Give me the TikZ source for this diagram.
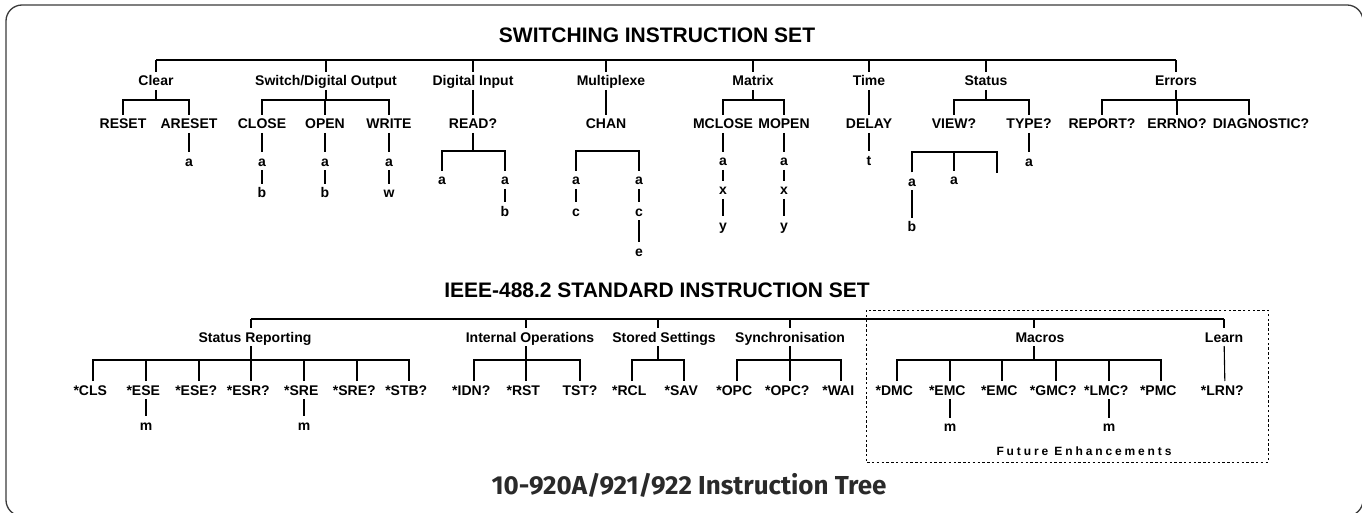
\documentclass[tikz,border=0pt]{standalone}
\usepackage{fontspec}
\setmainfont{Liberation Sans}
\newfontfamily\titlefont{Fira Sans}
\newfontfamily\spacedfont{Liberation Sans}[LetterSpace=24]
\definecolor{framegray}{HTML}{3A3A3A}
\definecolor{titlegray}{HTML}{2A2A2A}
\begin{document}
\begin{tikzpicture}[x=1pt,y=-1pt,
  lbl/.style={font=\fontsize{14}{14}\selectfont\bfseries, inner sep=0pt, outer sep=4pt, text height=10pt, text depth=0pt},
  ttl/.style={font=\fontsize{21}{21}\selectfont\bfseries, inner sep=0pt},
  ln/.style={line width=1.1pt},
  mainln/.style={line width=2.2pt},
  fut/.style={font=\fontsize{12}{12}\selectfont\spacedfont\bfseries, inner sep=0pt},
  bigttl/.style={font=\fontsize{26}{26}\selectfont\titlefont\bfseries, text=titlegray, inner sep=0pt},
  dashbox/.style={line width=1pt, dash pattern=on 2.4pt off 2.4pt}
]
\useasboundingbox (0,0) rectangle (1362,513);
\begin{scope}
  \clip (0,0) rectangle (1362,513);
  \draw[line width=1.3pt, framegray, rounded corners=16pt] (6,5) rectangle (1363,516);
\end{scope}

% ================= SWITCHING INSTRUCTION SET =================
\node[ttl] (t1) at (657,35.5) {SWITCHING INSTRUCTION SET};
\coordinate (T) at (0,60);
\coordinate (B) at (0,100);
\coordinate (R) at (0,151);
\coordinate (V) at (0,152);

\node[lbl] (clear)  at (156,81) {Clear};
\node[lbl] (swdo)   at (326,81) {Switch/Digital Output};
\node[lbl] (dig)    at (473,81) {Digital Input};
\node[lbl] (mux)    at (611,81) {Multiplexe};
\node[lbl] (matrix) at (753,81) {Matrix};
\node[lbl] (time)   at (869,81) {Time};
\node[lbl] (status) at (986,81) {Status};
\node[lbl] (errors) at (1176,81) {Errors};

\node[lbl] (reset)  at (123,124) {RESET};
\node[lbl] (areset) at (189,124) {ARESET};
\node[lbl] (close)  at (262,124) {CLOSE};
\node[lbl] (open)   at (325,124) {OPEN};
\node[lbl] (write)  at (389,124) {WRITE};
\node[lbl] (read)   at (473,124) {READ?};
\node[lbl] (chan)   at (606,124) {CHAN};
\node[lbl] (mclose) at (723,124) {MCLOSE};
\node[lbl] (mopen)  at (784,124) {MOPEN};
\node[lbl] (delay)  at (869,124) {DELAY};
\node[lbl] (view)   at (954,124) {VIEW?};
\node[lbl] (type)   at (1029,124) {TYPE?};
\node[lbl] (report) at (1102,124) {REPORT?};
\node[lbl] (errno)  at (1177,124) {ERRNO?};
\node[lbl] (diag)   at (1261,124) {DIAGNOSTIC?};
\coordinate (dstem) at (1249,124);

% third level
\node[lbl] (ara) at (189,161.5) {a};
\node[lbl] (ca) at (262,161.5) {a};
\node[lbl] (cb) at (262,193) {b};
\node[lbl] (oa) at (325,161.5) {a};
\node[lbl] (ob) at (325,193) {b};
\node[lbl] (wa) at (389,161.5) {a};
\node[lbl] (ww) at (389,193) {w};
\node[lbl] (ra) at (442,180) {a};
\node[lbl] (rb) at (505,180) {a};
\node[lbl] (rbb) at (505,211.5) {b};
\node[lbl] (ma) at (576,180) {a};
\node[lbl] (mc) at (576,211) {c};
\node[lbl] (mb) at (639,180) {a};
\node[lbl] (md) at (639,211) {c};
\node[lbl] (me) at (639,251) {e};
\node[lbl] (xa) at (723,161) {a};
\node[lbl] (xx) at (723,190) {x};
\node[lbl] (xy) at (723,225) {y};
\node[lbl] (ya) at (784,161) {a};
\node[lbl] (yx) at (784,190) {x};
\node[lbl] (yy) at (784,225) {y};
\node[lbl] (dt) at (869,160.5) {t};
\node[lbl] (ta) at (1029,161.5) {a};
\node[lbl] (va) at (912,181.5) {a};
\node[lbl] (vb) at (954,180) {a};
\node[lbl] (vbb) at (912,226.5) {b};
\coordinate (vr) at (997,173);

% connectors
\draw[mainln] (T -| clear) -- (T -| errors);
\foreach \n in {clear,swdo,dig,matrix,time,status,errors}
  \draw[ln] (T -| \n) -- (\n.north);
\draw[ln] (T -| chan) -- (mux.north -| chan);

\draw[ln] (clear.south) -- (clear |- B);
\draw[ln] (reset.north) -- (reset |- B) -- (areset |- B) -- (areset.north);
\draw[ln] (areset) -- (ara);

\draw[ln] (swdo.south) -- (swdo |- B);
\draw[ln] (close.north) -- (close |- B) -- (write |- B) -- (write.north);
\draw[ln] (open.north) -- (open |- B);
\draw[ln] (close) -- (ca) -- (cb);
\draw[ln] (open) -- (oa) -- (ob);
\draw[ln] (write) -- (wa) -- (ww);

\draw[ln] (dig) -- (read);
\draw[ln] (read.south) -- (read |- R);
\draw[ln] (ra.north) -- (ra |- R) -- (rb |- R) -- (rb.north);
\draw[ln] (rb) -- (rbb);

\draw[ln] (mux.south -| chan) -- (chan.north);
\draw[ln] (ma.north) -- (ma |- R) -- (mb |- R) -- (mb.north);
\draw[ln] (ma) -- (mc);
\draw[ln] (mb) -- (md) -- (me);

\draw[ln] (matrix.south) -- (matrix |- B);
\draw[ln] (mclose.north) -- (mclose |- B) -- (mopen |- B) -- (mopen.north);
\draw[ln] (mclose) -- (xa) -- (xx) -- (xy);
\draw[ln] (mopen) -- (ya) -- (yx) -- (yy);

\draw[ln] (time) -- (delay);
\draw[ln] (delay) -- (dt);

\draw[ln] (status.south) -- (status |- B);
\draw[ln] (view.north) -- (view |- B) -- (type |- B) -- (type.north);
\draw[ln] (type) -- (ta);
\draw[ln] (va.north) -- (va |- V) -- (vr |- V) -- (vr);
\draw[ln] (vb.north) -- (vb |- V);
\draw[ln] (va) -- (vbb);

\draw[ln] (errors.south) -- (errors |- B);
\draw[ln] (report.north) -- (report |- B) -- (dstem |- B) -- (diag.north -| dstem);
\draw[ln] (errno.north) -- (errno |- B);

% ================= IEEE-488.2 STANDARD INSTRUCTION SET =================
\node[ttl] (t2) at (657,290) {IEEE-488.2 STANDARD INSTRUCTION SET};
\coordinate (M) at (0,319);
\coordinate (N) at (0,360);

\node[lbl] (sr)  at (255,337) {Status Reporting};
\node[lbl] (io)  at (530,337) {Internal Operations};
\node[lbl] (ss)  at (664,337) {Stored Settings};
\node[lbl] (sy)  at (790,337) {Synchronisation};
\node[lbl] (mac) at (1040,337) {Macros};
\node[lbl] (lrn) at (1224,337) {Learn};
\coordinate (srS) at (251,319);
\coordinate (ioS) at (526,319);
\coordinate (ssS) at (658,319);
\coordinate (macS) at (1034,319);

\node[lbl] (cls)  at (93,390)  {\llap{*}CLS};
\node[lbl] (ese)  at (146,390) {\llap{*}ESE};
\node[lbl] (eseq) at (199,390) {\llap{*}ESE?};
\node[lbl] (esrq) at (251,390) {\llap{*}ESR?};
\node[lbl] (sre)  at (304,390) {\llap{*}SRE};
\node[lbl] (sreq) at (357,390) {\llap{*}SRE?};
\node[lbl] (stbq) at (409,390) {\llap{*}STB?};
\node[lbl] (idnq) at (474,390) {\llap{*}IDN?};
\node[lbl] (rst)  at (526,390) {\llap{*}RST};
\node[lbl] (tstq) at (580,390) {TST?};
\node[lbl] (rcl)  at (632,390) {\llap{*}RCL};
\node[lbl] (sav)  at (684,390) {\llap{*}SAV};
\node[lbl] (opc)  at (737,390) {\llap{*}OPC};
\node[lbl] (opcq) at (790,390) {\llap{*}OPC?};
\node[lbl] (wai)  at (841,390) {\llap{*}WAI};
\node[lbl] (dmc)  at (897,390) {\llap{*}DMC};
\node[lbl] (emca) at (950,390) {\llap{*}EMC};
\node[lbl] (emcb) at (1002,390) {\llap{*}EMC};
\node[lbl] (gmcq) at (1056,390) {\llap{*}GMC?};
\node[lbl] (lmcq) at (1109,390) {\llap{*}LMC?};
\node[lbl] (pmc)  at (1161,390) {\llap{*}PMC};
\node[lbl] (lrnq) at (1225,390) {\llap{*}LRN?};

\node[lbl] (esem) at (146,425) {m};
\node[lbl] (srem) at (304,425) {m};
\node[lbl] (emcm) at (950,426.5) {m};
\node[lbl] (lmcm) at (1109,426.5) {m};

\draw[mainln] (srS) -- (M -| lrn);
\foreach \n/\s in {sr/srS,io/ioS,ss/ssS,mac/macS} {
  \draw[ln] (\s) -- (\n.north -| \s);
  \draw[ln] (\n.south -| \s) -- (N -| \s);
}
\draw[ln] (M -| sy) -- (sy.north);
\draw[ln] (sy.south) -- (sy |- N);
\draw[ln] (M -| lrn) -- (lrn.north);
\draw[ln] (lrn) -- (lrnq);

\draw[ln] (cls.north) -- (cls |- N) -- (stbq |- N) -- (stbq.north);
\foreach \n in {ese,eseq,esrq,sre,sreq}
  \draw[ln] (\n.north) -- (\n |- N);
\draw[ln] (ese) -- (esem);
\draw[ln] (sre) -- (srem);

\draw[ln] (idnq.north) -- (idnq |- N) -- (tstq |- N) -- (tstq.north);
\draw[ln] (rst.north) -- (rst |- N);

\draw[ln] (rcl.north) -- (rcl |- N) -- (sav |- N) -- (sav.north);

\draw[ln] (opc.north) -- (opc |- N) -- (wai |- N) -- (wai.north);
\draw[ln] (opcq.north) -- (opcq |- N);

\draw[ln] (dmc.north) -- (dmc |- N) -- (pmc |- N) -- (pmc.north);
\foreach \n in {emca,emcb,gmcq,lmcq}
  \draw[ln] (\n.north) -- (\n |- N);
\draw[ln] (emca) -- (emcm);
\draw[ln] (lmcq) -- (lmcm);

% future enhancements box
\draw[dashbox] (866,310) rectangle (1268,462.5);
\node[fut] (futlbl) at (1084,451) {Future Enhancements};

% bottom title
\node[bigttl] (bt) at (689,485) {10-920A/921/922 Instruction Tree};
\end{tikzpicture}
\end{document}
